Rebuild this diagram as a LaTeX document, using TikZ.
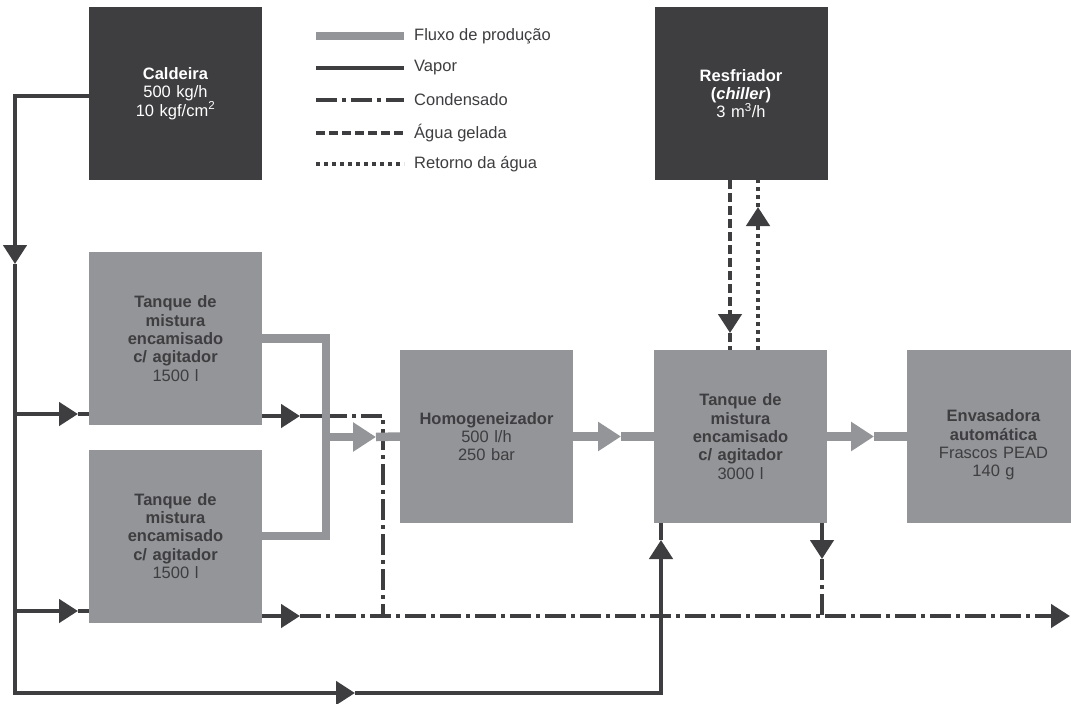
\documentclass[tikz,border=0pt]{standalone}
\usepackage{fontspec}
\setmainfont{Liberation Sans}
\usetikzlibrary{arrows.meta}
\definecolor{dk}{HTML}{3E3D40}
\definecolor{gr}{HTML}{939598}
\begin{document}
\begin{tikzpicture}[x=1pt,y=-1pt,
  box/.style={rectangle, minimum width=173pt, minimum height=173pt, inner sep=0pt, outer sep=0pt,
    align=center, text width=165pt, font=\fontsize{16.5}{18.3}\selectfont},
  darkbox/.style={box, fill=dk, text=white},
  graybox/.style={box, fill=gr, text=dk},
  vap/.style={draw=dk, line width=4.5pt},
  cond/.style={vap, dash pattern=on 21pt off 5pt on 4pt off 5pt},
  gel/.style={vap, dash pattern=on 9pt off 4pt},
  ret/.style={vap, dash pattern=on 4pt off 4pt},
  flow/.style={draw=gr, line width=8.5pt},
  tip/.style={-{Triangle[length=19pt,width=23pt]}},
  gtip/.style={-{Triangle[length=23pt,width=28pt]}},
  legtext/.style={anchor=west, inner sep=0pt, text=dk, font=\fontsize{16.5}{18}\selectfont}
]
\clip (0,0) rectangle (1071,704);
\fill[white] (0,0) rectangle (1071,704);

% boxes
\node[darkbox] (cald) at (175.5,93.5) {\textbf{Caldeira}\\500 kg/h\\10 kgf/cm\textsuperscript{2}};
\node[darkbox] (chil) at (741,93.5) {\textbf{Resfriador}\\\textbf{(\textit{chiller})}\\3 m\textsuperscript{3}/h};
\node[graybox] (t1) at (175.5,338.5) {\textbf{Tanque de}\\\textbf{mistura}\\\textbf{encamisado}\\\textbf{c/ agitador}\\1500 l};
\node[graybox] (t2) at (175.5,536) {\textbf{Tanque de}\\\textbf{mistura}\\\textbf{encamisado}\\\textbf{c/ agitador}\\1500 l};
\node[graybox] (hom) at (486.5,436.5) {\textbf{Homogeneizador}\\500 l/h\\250 bar};
\node[graybox] (t3) at (740.5,436.5) {\textbf{Tanque de}\\\textbf{mistura}\\\textbf{encamisado}\\\textbf{c/ agitador}\\3000 l};
\node[graybox] (env) at (993.5,436.5) {\raisebox{-9pt}[\height][\depth]{\begin{tabular}{@{}c@{}}\textbf{Envasadora}\\\textbf{automática}\\Frascos PEAD\\140 g\end{tabular}}};

% legend
\coordinate (l1a) at (316,36);  \coordinate (l1b) at (404,36);
\coordinate (l2a) at (316,68);  \coordinate (l2b) at (404,68);
\coordinate (l3a) at (316,100); \coordinate (l3b) at (404,100);
\coordinate (l4a) at (316,133); \coordinate (l4b) at (404,133);
\coordinate (l5a) at (316,164); \coordinate (l5b) at (404,164);
\draw[flow] (l1a) -- (l1b);
\draw[vap] (l2a) -- (l2b);
\draw[cond] (l3a) -- (l3b);
\draw[gel] (l4a) -- (l4b);
\draw[ret] (l5a) -- (l5b);
\node[legtext] (lt1) at (414,36) {Fluxo de produção};
\node[legtext] (lt2) at (414,68) {Vapor};
\node[legtext] (lt3) at (414,100) {Condensado};
\node[legtext] (lt4) at (414,133) {Água gelada};
\node[legtext] (lt5) at (414,164) {Retorno da água};

% coordinates
\coordinate (s0) at (15,96);
\coordinate (s1) at (15,264);
\coordinate (b1) at (15,414);
\coordinate (b2) at (15,611);
\coordinate (s4) at (15,693);
\coordinate (s5) at (355,693);
\coordinate (s6) at (661,693);
\coordinate (s7) at (661,540);
\coordinate (a1) at (78,414);
\coordinate (a2) at (78,611);
\coordinate (c1) at (300,416);
\coordinate (c1b) at (326,416);
\coordinate (c2) at (383,416);
\coordinate (c3) at (383,616);
\coordinate (d1) at (300,616);
\coordinate (d2) at (1070,616);
\coordinate (e1) at (822,559);
\coordinate (e2) at (822,616);
\coordinate (g1) at (730,333);
\coordinate (r1) at (758,207);
\coordinate (jn) at (326,437);
\coordinate (f1) at (376,437);
\coordinate (f2) at (621,436.5);
\coordinate (f3) at (874,436.5);

% chilled water
\draw[gel,tip] (chil.south -| g1) -- (g1);
\draw[gel] (g1) -- (t3.north -| g1);
\draw[ret,tip] (t3.north -| r1) -- (r1);
\draw[ret] (r1) -- (chil.south -| r1);

% condensate
\draw[vap,tip] (t1.east |- c1) -- (c1);
\draw[vap] (c1) -- (c1b);
\draw[cond] (c1b) -- (c2) -- (c3);
\draw[vap,tip] (t2.east |- d1) -- (d1);
\draw[cond,tip] (d1) -- (d2);
\draw[vap,tip] (t3.south -| e1) -- (e1);
\draw[cond] (e1) -- (e2);

% production flow
\draw[flow] (t1.east) -| (jn) |- (t2.east);
\draw[flow,gtip] (jn) -- (f1);
\draw[flow] (f1) -- (hom.west);
\draw[flow,gtip] (hom.east) -- (f2);
\draw[flow] (f2) -- (t3.west);
\draw[flow,gtip] (t3.east) -- (f3);
\draw[flow] (f3) -- (env.west);

% steam
\draw[vap,tip] (cald.west |- s0) -- (s0) -- (s1);
\draw[vap,tip] (s1) -- (s4) -- (s5);
\draw[vap,tip] (s5) -- (s6) -- (s7);
\draw[vap] (s7) -- (s7 |- t3.south);
\draw[vap,tip] (b1) -- (a1);
\draw[vap] (a1) -- (t1.west |- a1);
\draw[vap,tip] (b2) -- (a2);
\draw[vap] (a2) -- (t2.west |- a2);
\end{tikzpicture}
\end{document}
